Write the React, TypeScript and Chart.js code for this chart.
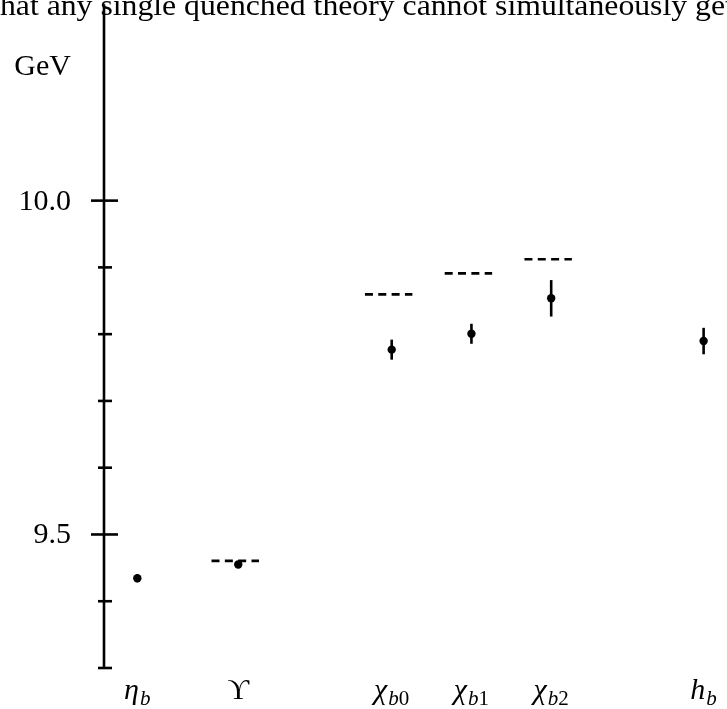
import React, { useEffect, useRef } from 'react';
import { Chart, registerables } from 'chart.js';

Chart.register(...registerables);

// Bottomonium states, lattice masses (GeV) with statistical errors, and experimental masses
const stateSymbols = ['η', 'ϒ', 'χ', 'χ', 'χ', 'h'];
const symbolItalic = [true, false, true, true, true, true];
const stateSubscripts = ['b', '', 'b0', 'b1', 'b2', 'b'];
const statePositions = [1, 2, 3.52, 4.31, 5.1, 6.61];
const latticeMass = [9.4345, 9.455, 9.7768, 9.8006, 9.8537, 9.7897];
const latticeError = [0.006, 0.003, 0.015, 0.015, 0.0273, 0.0198];
const experimentMass: (number | null)[] = [null, 9.4605, 9.8597, 9.8909, 9.9122, null];

// Axis ticks
const majorTicks = [10.0, 9.5];
const majorTickLabels = ['10.0', '9.5'];
const minorTicks = [9.9, 9.8, 9.7, 9.6, 9.4, 9.3];
const unitLabel = 'GeV';
const runningText = 'that any single quenched theory cannot simultaneously get';

const Y_MIN = 9.3;
const Y_MAX = 10.2942;
const X_MIN = 0.67;
const X_MAX = 6.8;
const EXP_LEFT = 0.265;
const EXP_RIGHT = 0.205;

const SERIF = '"Liberation Serif", "DejaVu Serif", serif';

const spectrumPlugin = {
  id: 'spectrumDecor',
  beforeDatasetsDraw(chart: any) {
    const { ctx, chartArea, scales } = chart;
    const y = scales.y;
    ctx.save();
    // running text of the page above the figure, cut by the top edge
    ctx.fillStyle = '#000';
    ctx.font = `30px ${SERIF}`;
    ctx.textBaseline = 'alphabetic';
    ctx.textAlign = 'left';
    const shown = runningText.slice(1, -1);
    const wShown = ctx.measureText(shown).width;
    const wLead = ctx.measureText(runningText.slice(0, 1)).width;
    const sx = 725 / wShown;
    ctx.save();
    ctx.translate(0, 0);
    ctx.scale(sx, 1);
    ctx.fillText(runningText, -wLead, 15);
    ctx.restore();

    // vertical axis
    const ax = chartArea.left;
    ctx.strokeStyle = '#000';
    ctx.lineWidth = 2.6;
    ctx.beginPath();
    ctx.moveTo(ax, chartArea.top);
    ctx.lineTo(ax, y.getPixelForValue(Y_MIN));
    ctx.stroke();

    majorTicks.forEach((v) => {
      const py = y.getPixelForValue(v);
      ctx.beginPath();
      ctx.moveTo(ax - 13, py);
      ctx.lineTo(ax + 14, py);
      ctx.stroke();
    });
    minorTicks.forEach((v) => {
      const py = y.getPixelForValue(v);
      ctx.beginPath();
      ctx.moveTo(ax - 6, py);
      ctx.lineTo(ax + 8, py);
      ctx.stroke();
    });

    ctx.font = `30px ${SERIF}`;
    ctx.textAlign = 'right';
    ctx.textBaseline = 'middle';
    majorTicks.forEach((v, i) => {
      ctx.fillText(majorTickLabels[i], 71, y.getPixelForValue(v) + 1);
    });
    ctx.textBaseline = 'alphabetic';
    ctx.fillText(unitLabel, 71, 75);
    ctx.restore();
  },
  afterDatasetsDraw(chart: any) {
    const { ctx, scales } = chart;
    const x = scales.x;
    const y = scales.y;
    ctx.save();
    ctx.strokeStyle = '#000';
    ctx.fillStyle = '#000';
    ctx.lineWidth = 2.6;
    // error bars
    latticeMass.forEach((m, i) => {
      const px = x.getPixelForValue(statePositions[i]);
      ctx.beginPath();
      ctx.moveTo(px, y.getPixelForValue(m - latticeError[i]));
      ctx.lineTo(px, y.getPixelForValue(m + latticeError[i]));
      ctx.stroke();
    });

    // state names under the axis
    const mainFont = (it: boolean) => `${it ? 'italic ' : ''}30px ${SERIF}`;
    const subFont = (it: boolean) => `${it ? 'italic ' : ''}21px ${SERIF}`;
    const baseY = 699;
    const subY = 705;
    ctx.textAlign = 'left';
    ctx.textBaseline = 'alphabetic';
    stateSymbols.forEach((sym, i) => {
      const sub = stateSubscripts[i];
      ctx.font = mainFont(symbolItalic[i]);
      const wMain = ctx.measureText(sym).width;
      const parts = sub.split('').map((ch) => ({ ch, it: /[a-z]/.test(ch) }));
      let wSub = 0;
      parts.forEach((p) => {
        ctx.font = subFont(p.it);
        wSub += ctx.measureText(p.ch).width;
      });
      const total = wMain + (sub ? wSub + 1 : 0);
      let cx = x.getPixelForValue(statePositions[i]) - total / 2;
      ctx.font = mainFont(symbolItalic[i]);
      ctx.fillText(sym, cx, baseY);
      cx += wMain + 1;
      parts.forEach((p) => {
        ctx.font = subFont(p.it);
        ctx.fillText(p.ch, cx, subY);
        cx += ctx.measureText(p.ch).width;
      });
    });
    ctx.restore();
  },
};

export default function App() {
  const canvasRef = useRef<HTMLCanvasElement | null>(null);

  useEffect(() => {
    document.body.style.margin = '0';
    const canvas = canvasRef.current;
    if (!canvas) return;

    const experimentSets = experimentMass
      .map((m, i) => ({ m, i }))
      .filter((e) => e.m !== null)
      .map((e) => ({
        type: 'line' as const,
        data: [
          { x: statePositions[e.i] - EXP_LEFT, y: e.m as number },
          { x: statePositions[e.i] + EXP_RIGHT, y: e.m as number },
        ],
        borderColor: '#000',
        borderWidth: 2.7,
        borderDash: [8, 5.33],
        pointRadius: 0,
        fill: false,
      }));

    const chart = new Chart(canvas, {
      type: 'scatter',
      data: {
        datasets: [
          ...experimentSets,
          {
            type: 'scatter' as const,
            data: latticeMass.map((m, i) => ({ x: statePositions[i], y: m })),
            backgroundColor: '#000',
            borderColor: '#000',
            borderWidth: 0,
            pointRadius: 4.2,
          },
        ] as any,
      },
      options: {
        animation: false,
        responsive: false,
        layout: { padding: { left: 104, right: 0, top: 0, bottom: 41 } },
        scales: {
          x: { type: 'linear', min: X_MIN, max: X_MAX, display: false },
          y: { type: 'linear', min: Y_MIN, max: Y_MAX, display: false },
        },
        plugins: {
          legend: { display: false },
          tooltip: { enabled: false },
        },
      },
      plugins: [spectrumPlugin],
    });

    return () => chart.destroy();
  }, []);

  return (
    <div style={{ position: 'fixed', left: 0, top: 0, width: 727, height: 709, background: '#fff' }}>
      <canvas ref={canvasRef} width={727} height={709} />
    </div>
  );
}
